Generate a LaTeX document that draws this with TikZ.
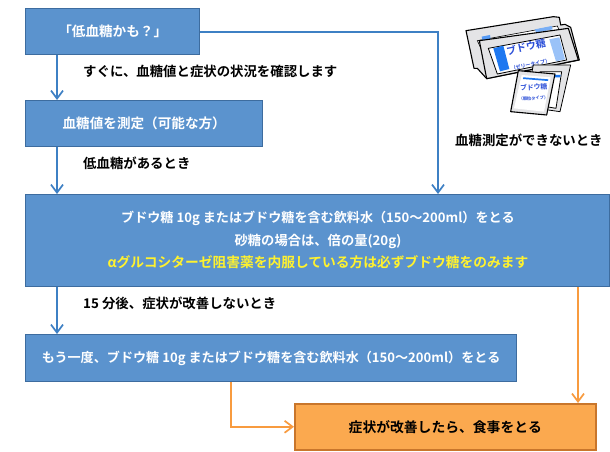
\documentclass[tikz,border=0pt]{standalone}
\usepackage{fontspec}
\setmainfont{Noto Sans CJK JP}[BoldFont={* Bold}]
\usetikzlibrary{arrows.meta}
\definecolor{boxblue}{HTML}{5B93CE}
\definecolor{boxedge}{HTML}{3D6C9F}
\definecolor{lineblue}{HTML}{3E80C4}
\definecolor{boxorange}{HTML}{FBA94F}
\definecolor{orangeedge}{HTML}{C9762B}
\definecolor{lineorange}{HTML}{F89B3F}
\definecolor{packgray}{HTML}{E4E4E6}
\definecolor{packblue}{HTML}{1E78F0}
\definecolor{packtext}{HTML}{2B4FD8}
\definecolor{textyellow}{HTML}{FFF22E}
\tikzset{
  x=1pt,y=-1pt,
  flowbox/.style={draw=boxedge,line width=1.4pt,fill=boxblue,text=white,anchor=north west,inner sep=0pt,font=\fontsize{13.6}{16}\selectfont\bfseries},
  boxline/.style={inner sep=0pt,font=\fontsize{13.1}{16}\selectfont\bfseries},
  endbox/.style={draw=orangeedge,line width=1.6pt,fill=boxorange,text=black,anchor=north west,inner sep=0pt,font=\fontsize{13.8}{16}\selectfont\bfseries},
  note/.style={anchor=west,inner sep=0pt,text=black,font=\fontsize{13.4}{16}\selectfont\bfseries},
  blueflow/.style={draw=lineblue,line width=1.9pt,-{Straight Barb[length=8pt,width=12pt,line width=1.7pt]}},
  orangeflow/.style={draw=lineorange,line width=1.9pt,-{Straight Barb[length=8pt,width=12pt,line width=1.7pt]}},
  packet/.style={draw=black,line width=1.1pt,fill=packgray,line join=round},
  sachet/.style={draw=black,line width=0.8pt,fill=white,line join=round},
  logo/.style={text=packtext,inner sep=0pt,text height=0.8em,text depth=0pt},
}
\begin{document}
\begin{tikzpicture}
\useasboundingbox (0,0) rectangle (610,452);
\fill[white] (0,0) rectangle (610,452);

% illustration
\begin{scope}[shift={(440,0)},x=0.3333pt,y=-0.3333pt]
  \path[packet] (78,92) -- (340,50) -- (358,52) -- (362,75) -- (375,73) -- (392,82) -- (418,180) -- (140,236) -- (112,205) -- (102,205) -- cycle;
  \path[draw=black,line width=0.6pt,fill=white] (112,122) -- (352,78) -- (362,100) -- (125,150) -- cycle;
  \fill[packblue!75] (125,110) -- (150,105) -- (152,118) -- (128,124) -- cycle;
  \fill[packblue!60] (285,88) -- (335,78) -- (338,88) -- (288,98) -- cycle;
  \path[packet] (118,122) -- (385,85) -- (415,180) -- (140,236) -- cycle;
  \path[sachet] (145,145) -- (360,105) -- (380,180) -- (172,222) -- cycle;
  \fill[packblue] (160,145) -- (190,137) -- (208,207) -- (180,214) -- cycle;
  \fill[packblue!45] (328,118) -- (358,112) -- (375,178) -- (348,184) -- cycle;
  \node[logo,rotate=12,font=\fontsize{10}{10}\selectfont\bfseries] (logoA) at (258,141) {ブドウ糖};
  \node[logo,rotate=12,font=\fontsize{5}{5}\selectfont\bfseries] (logoB) at (270,188) {（ゼリータイプ）};
  \path[sachet,fill=packgray] (280,195) -- (392,195) -- (360,335) -- (255,320) -- cycle;
  \path[sachet] (300,215) -- (365,215) -- (348,325) -- (290,315) -- cycle;
  \fill[packblue] (345,225) -- (362,225) -- (360,232) -- (344,232) -- cycle;
  \path[packet] (235,212) -- (345,222) -- (320,345) -- (212,335) -- cycle;
  \path[draw=none,fill=white] (245,225) -- (332,232) -- (312,335) -- (222,325) -- cycle;
  \fill[packblue] (250,232) -- (325,238) -- (324,243) -- (249,237) -- cycle;
  \node[logo,rotate=3,font=\fontsize{6.8}{8}\selectfont\bfseries] (logoC) at (281,258) {ブドウ糖};
  \node[logo,rotate=3,font=\fontsize{4.2}{5}\selectfont\bfseries] (logoD) at (280,288) {（顆粒タイプ）};
\end{scope}

% boxes
\node[flowbox,minimum width=174pt,minimum height=46pt] (b1) at (25,8) {「低血糖かも？」};
\node[flowbox,minimum width=237pt,minimum height=46pt] (b2) at (25,100) {血糖値を測定（可能な方）};
\node[flowbox,minimum width=584pt,minimum height=92pt] (b3) at (25,194) {};
\node[boxline,text=white] (t1) at (318,218) {ブドウ糖 10g またはブドウ糖を含む飲料水（150～200ml）をとる};
\node[boxline,text=white,font=\fontsize{13.3}{16}\selectfont\bfseries] (t2) at (318,241) {砂糖の場合は、倍の量(20g)};
\node[boxline,text=textyellow,font=\fontsize{13.75}{16}\selectfont\bfseries] (t3) at (318,262) {αグルコシターゼ阻害薬を内服している方は必ずブドウ糖をのみます};
\node[flowbox,minimum width=491pt,minimum height=47pt,font=\fontsize{13.1}{16}\selectfont\bfseries] (b4) at (25,334) {もう一度、ブドウ糖 10g またはブドウ糖を含む飲料水（150～200ml）をとる};
\node[endbox,minimum width=301pt,minimum height=46pt] (b5) at (294,403) {症状が改善したら、食事をとる};

% labels
\node[note] (n1) at (83,71) {すぐに、血糖値と症状の状況を確認します};
\node[note] (n2) at (83,163) {低血糖があるとき};
\node[note] (n3) at (83,303) {15 分後、症状が改善しないとき};
\node[note] (n4) at (455,140) {血糖測定ができないとき};

% connectors
\coordinate (xl) at (57,0);
\coordinate (xm) at (438,0);
\coordinate (xo) at (578,0);
\coordinate (xs) at (231,0);
\draw[blueflow] (xl |- b1.south) -- (xl |- b2.north);
\draw[blueflow] (xl |- b2.south) -- (xl |- b3.north);
\draw[blueflow] (xl |- b3.south) -- (xl |- b4.north);
\draw[blueflow] (b1.east) -| (xm |- b3.north);
\draw[orangeflow] (xo |- b3.south) -- (xo |- b5.north);
\draw[orangeflow] (xs |- b4.south) |- (b5.west);
\end{tikzpicture}
\end{document}
